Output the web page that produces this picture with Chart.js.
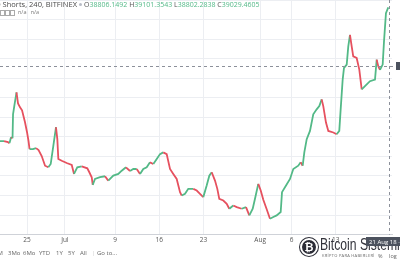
<!DOCTYPE html>
<html>
<head>
<meta charset="utf-8">
<script src="https://cdn.jsdelivr.net/npm/chart.js@4.4.0/dist/chart.umd.min.js"></script>
<style>
  body { margin: 0; background: #fff; }
  #wrap { position: relative; width: 400px; height: 260px; overflow: hidden; font-family: 'Open Sans', sans-serif; }
  canvas { position: absolute; left: 0; top: 0; }
  .txt { position: absolute; white-space: nowrap; line-height: 1; }
  #title { right: 323px; top: 1px; font-size: 7.5px; color: #4a4a4a; }
  #ohlc { left: 84px; top: 1px; font-size: 7px; color: #53b987; }
  #ohlc b { font-weight: normal; color: #555; }
  #dot { left: 79px; top: 3px; width: 3px; height: 3px; border-radius: 50%; background: #b8bcc6; }
  #na { left: 18px; top: 10px; font-size: 5.5px; color: #777; }
  .ico { position: absolute; top: 10px; width: 3px; height: 4px; border: 1px solid #aaa; }
  #tools { left: 0; top: 250px; font-size: 6px; color: #666; }
  #tools span { position: absolute; top: 0; }
  #timeLbl { left: 366px; top: 237px; width: 60px; height: 9px; background: #4c525e; color: #fff; font-size: 6px; padding: 1.5px 0 0 3px; box-sizing: border-box; z-index: 2; }
  #logo { left: 300px; top: 238px; width: 18px; height: 18px; border-radius: 50%; background: #2b2c36; box-sizing: border-box; border: 2px solid #fff; box-shadow: 0 0 0 1px #2b2c36; color: #fff; font-size: 11px; font-weight: bold; text-align: center; line-height: 14px; }
  #brand { left: 320px; top: 237px; font-size: 16px; color: #33343c; font-family: 'Liberation Sans', sans-serif; transform: scaleX(0.76); transform-origin: left top; }
  #brandSub { left: 322px; top: 254px; font-size: 4px; color: #666; letter-spacing: 0.3px; }
  #pct { left: 378px; top: 254px; font-size: 5.5px; color: #666; }
  #log { left: 389px; top: 254px; font-size: 5.5px; color: #666; }
</style>
</head>
<body>
<div id="wrap">
  <canvas id="myChart" width="400" height="260"></canvas>
  <div class="txt" id="title">BTCUSD Shorts, 240, BITFINEX</div>
  <div class="txt" id="dot"></div>
  <div class="txt" id="ohlc"><b>O</b>38806.1492 <b>H</b>39101.3543 <b>L</b>38802.2838 <b>C</b>39029.4605</div>
  <div class="ico" style="left:0px"></div><div class="ico" style="left:5px"></div><div class="ico" style="left:10px"></div>
  <div class="txt" id="na">n/a &nbsp; n/a</div>
  <div class="txt" id="tools">
    <span style="left:-6px">1M</span><span style="left:8px">3Mo</span><span style="left:23px">6Mo</span>
    <span style="left:39px">YTD</span><span style="left:56px">1Y</span><span style="left:68px">5Y</span>
    <span style="left:80px">All</span><span style="left:92px;color:#ccc">|</span><span style="left:97px">Go to...</span>
  </div>
  <div class="txt" id="timeLbl">21 Aug 18 · 12:00</div>
  <div class="txt" id="logo">₿</div>
  <div class="txt" id="brand">Bitcoin Sistemi</div>
  <div class="txt" id="brandSub">KRİPTO PARA HABERLERİ</div>
  <div class="txt" id="pct">%</div>
  <div class="txt" id="log">log</div>
</div>
<script>
// Jours écoulés depuis le 25 juin 2018 (bougies 240 min)
const days = [
  -4.29, -3.65, -3.02, -2.78, -2.54, -2.30, -2.22, -1.98, -1.67, -1.43, -1.11, -0.79, -0.32, 0.00,
  0.24, 0.40, 0.95, 1.43, 1.83, 2.33, 2.86, 3.38, 3.76, 4.17, 4.60, 4.81, 4.97, 5.51,
  6.30, 7.10, 7.46, 7.98, 8.68, 9.57, 9.89, 10.27, 10.43, 10.79, 11.59, 12.38, 12.90, 13.70,
  14.49, 15.03, 15.71, 16.35, 16.87, 17.41, 17.94, 18.46, 19.00, 19.52, 20.05, 20.59, 21.11, 21.63,
  22.17, 22.70, 23.22, 23.76, 24.29, 24.56, 25.08, 25.60, 26.40, 26.94, 27.46, 27.98, 28.52, 28.94,
  29.32, 29.84, 30.21, 30.52, 31.16, 31.70, 32.11, 32.75, 33.29, 34.08, 34.76, 35.29, 35.83, 36.19,
  36.71, 37.10, 37.51, 38.02, 38.57, 39.10, 39.63, 40.27, 40.48, 40.95, 41.75, 42.27, 43.06, 43.44,
  43.76, 44.02, 44.40, 44.92, 45.44, 45.98, 46.40, 46.78, 47.03, 47.46, 47.83, 48.62, 49.16, 49.57,
  49.79, 50.11, 50.32, 50.75, 51.00, 51.27, 51.54, 51.79, 52.33, 52.75, 53.13, 53.65, 54.44, 55.24,
  55.51, 55.76, 56.03, 56.46, 56.67, 56.98, 57.35
];

// Positions short BTC/USD (clôture de chaque bougie)
const shorts = [
  32300, 32300, 32250, 32200, 32500, 32450, 33650, 34150, 34750, 34200, 34000, 33850, 33250, 32750,
  32300, 31900, 31900, 31950, 31850, 31550, 31065, 30985, 31150, 32050, 33000, 32400, 31400, 31315,
  31200, 31100, 30650, 30985, 31035, 30935, 30735, 30485, 30100, 30400, 30485, 30535, 30315, 30565,
  30650, 30815, 30985, 30800, 30900, 30900, 30650, 30900, 30985, 31235, 31150, 31400, 31650, 31735,
  31650, 30900, 30650, 30400, 29735, 29565, 29650, 29900, 29900, 29815, 29650, 29485, 30065, 30565,
  30735, 30315, 29900, 29400, 29315, 29150, 28900, 29065, 28985, 28900, 28985, 28565, 28900, 29400,
  30150, 29815, 29350, 28900, 28400, 28485, 28565, 28735, 29735, 29985, 30400, 30900, 31065, 31235,
  31065, 31735, 32400, 32815, 33650, 33900, 34065, 34400, 34065, 33235, 32815, 32735, 32650, 32815,
  33900, 35400, 35985, 36150, 37065, 37650, 37065, 36565, 36485, 35900, 34900, 35065, 35315, 35400,
  36400, 36065, 35885, 36150, 37315, 38735, 39029
];

// Étiquettes de l'axe du temps
const tickDays = [0, 6, 14, 21, 28, 37, 42, 49];
const tickLabels = ['25', 'Jul', '9', '16', '23', 'Aug', '6', '13'];

// Réticule (21 août 12:00)
const crosshairDay = 57.46;
const crosshairPrice = 36100;

const upColor = '#53b987';
const downColor = '#e6515f';

// Plugin pour dessiner le réticule en pointillés
const crosshairPlugin = {
    id: 'crosshair',
    afterDatasetsDraw(chart) {
        const ctx = chart.ctx;
        const area = chart.chartArea;
        const x = chart.scales.x.getPixelForValue(crosshairDay);
        const y = chart.scales.y.getPixelForValue(crosshairPrice);
        ctx.save();
        ctx.strokeStyle = '#8c909a';
        ctx.lineWidth = 1;
        ctx.setLineDash([3, 3]);
        ctx.beginPath();
        ctx.moveTo(Math.round(x) + 0.5, area.top);
        ctx.lineTo(Math.round(x) + 0.5, area.bottom);
        ctx.moveTo(area.left, Math.round(y) + 0.5);
        ctx.lineTo(chart.width - 4, Math.round(y) + 0.5);
        ctx.stroke();
        ctx.setLineDash([]);
        ctx.fillStyle = '#4c525e';  // étiquette de prix à droite
        ctx.fillRect(chart.width - 4, Math.round(y) - 4, 4, 8);
        ctx.restore();
    }
};

function generateChart() {
    const ctx = document.getElementById('myChart').getContext('2d');
    new Chart(ctx, {
        type: 'line',
        data: {
            datasets: [{
                label: 'BTCUSD Shorts',
                data: days.map((d, i) => ({ x: d, y: shorts[i] })),
                borderWidth: 1.8,
                pointRadius: 0,
                tension: 0,
                segment: {
                    // vert si la bougie monte, rouge si elle baisse
                    borderColor: c => c.p1.parsed.y >= c.p0.parsed.y ? upColor : downColor
                }
            }]
        },
        options: {
            responsive: false,
            animation: false,
            layout: { padding: { left: 0, right: 8, top: 0, bottom: 13.6 } },
            plugins: { legend: { display: false }, tooltip: { enabled: false } },
            scales: {
                x: {
                    type: 'linear',
                    min: -4.29,
                    max: 57.94,
                    afterBuildTicks: axis => { axis.ticks = tickDays.map(v => ({ value: v })); },
                    ticks: {
                        autoSkip: false,
                        maxRotation: 0,
                        padding: 2,
                        color: '#555',
                        font: { size: 6.5, family: 'Open Sans' },
                        callback: v => tickLabels[tickDays.indexOf(v)]
                    },
                    grid: { color: '#eceef2', drawTicks: false },
                    border: { color: '#cfd2d8' }
                },
                y: {
                    position: 'right',
                    min: 27600,
                    max: 39400,
                    ticks: { display: false, stepSize: 1000 },
                    grid: { color: '#eceef2', drawTicks: false },
                    border: { display: false }
                }
            }
        },
        plugins: [crosshairPlugin]
    });
}

generateChart();
</script>
</body>
</html>
